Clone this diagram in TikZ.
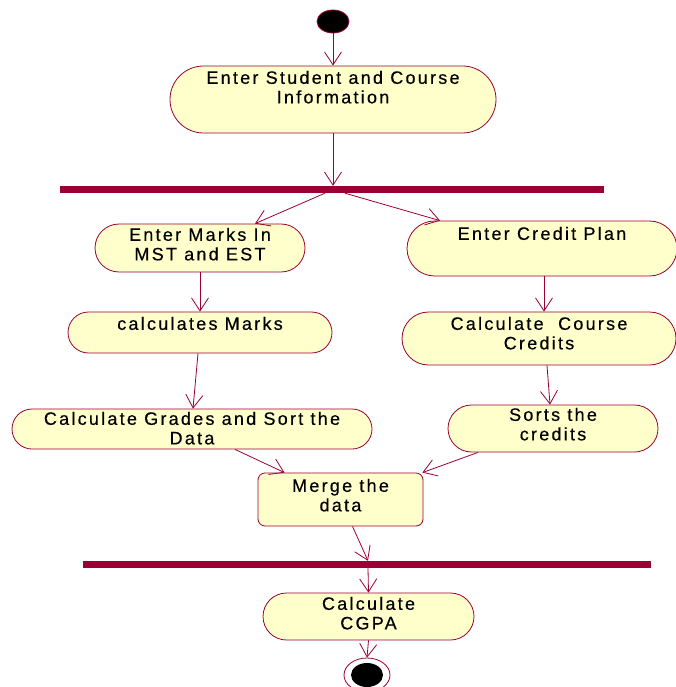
\documentclass[tikz,border=0pt]{standalone}
\usepackage{fontspec}
\newfontfamily\actfont{Liberation Sans}[LetterSpace=12.5,FakeBold=0.4]
\usetikzlibrary{shapes.misc,shapes.geometric,arrows.meta}
\definecolor{umlred}{HTML}{990033}
\definecolor{umlfill}{HTML}{FFFFCC}
\tikzset{
  act/.style={rounded rectangle, draw=umlred, fill=umlfill, line width=0.8pt, inner sep=0pt},
  mergebox/.style={rectangle, rounded corners=7pt, draw=umlred, fill=umlfill, line width=0.8pt, inner sep=0pt},
  lbl/.style={font=\actfont\fontsize{18}{19.5}\selectfont, align=center, inner sep=0pt, anchor=north, yshift=-5pt},
  syncbar/.style={rectangle, fill=umlred, inner sep=0pt, minimum height=7pt},
  flow/.style={draw=umlred, line width=0.8pt, -{Straight Barb[length=13pt,width=17pt,line width=0.8pt]}},
}
\begin{document}
\begin{tikzpicture}[x=1pt,y=-1pt]
\useasboundingbox (0,0) rectangle (676,687);

% initial state
\node[ellipse, draw=umlred, fill=black, line width=0.8pt, minimum width=32, minimum height=23, inner sep=0pt] (start) at (333,21.5) {};

% activities
\node[act, minimum width=326, minimum height=67,
  label={[lbl]north:{Enter Student and Course\\Information}}] (info) at (333,99.5) {};

\node[syncbar, minimum width=544] (fork) at (332,189.5) {};

\node[act, minimum width=210, minimum height=48,
  label={[lbl,yshift=1pt]north:{Enter Marks In\\MST and EST}}] (marks) at (200,248) {};
\node[act, minimum width=264, minimum height=41,
  label={[lbl]north:{calculates Marks}}] (calcm) at (200,332.5) {};
\node[act, minimum width=360, minimum height=40,
  label={[lbl,yshift=2pt]north:{Calculate Grades and Sort the\\Data}}] (grades) at (192,429) {};

\node[act, minimum width=270, minimum height=55,
  label={[lbl,yshift=-1pt]north:{Enter Credit Plan}}] (plan) at (542,248.5) {};
\node[act, minimum width=274, minimum height=53,
  label={[lbl]north:{Calculate \ Course\\Credits}}] (credits) at (539,338.5) {};
\node[act, minimum width=210, minimum height=47,
  label={[lbl,yshift=2pt]north:{Sorts the\\credits}}] (sorts) at (553,428.5) {};

\node[mergebox, minimum width=165, minimum height=53,
  label={[lbl,yshift=-1pt]north:{Merge the\\data}}] (merge) at (340.5,499.5) {};

\node[syncbar, minimum width=568] (join) at (367,564.5) {};

\node[act, minimum width=211, minimum height=47,
  label={[lbl,yshift=1pt]north:{Calculate\\CGPA}}] (cgpa) at (368.5,616.5) {};

% final state
\node[ellipse, draw=umlred, fill=white, line width=0.8pt, minimum width=46, minimum height=34, inner sep=0pt] (final) at (367,675) {};
\node[ellipse, fill=black, minimum width=32, minimum height=24, inner sep=0pt] (finaldot) at (367,675) {};

% transitions
\draw[flow] (start.south) -- (info.north);
\draw[flow] (info.south) -- (info.south |- fork.north);
\draw[flow] ([xshift=-7pt]fork.south) -- ([xshift=55pt]marks.north);
\draw[flow] ([xshift=13pt]fork.south) -- ([xshift=-102pt]plan.north);
\draw[flow] (marks.south) -- (calcm.north);
\draw[flow] ([xshift=-2pt]calcm.south) -- ([xshift=1pt]grades.north);
\draw[flow] ([xshift=2pt]plan.south) -- ([xshift=5pt]credits.north);
\draw[flow] ([xshift=8pt]credits.south) -- ([xshift=-3pt]sorts.north);
\draw[flow] ([xshift=43pt]grades.south) -- ([xshift=-56pt]merge.north);
\draw[flow] ([xshift=-75pt]sorts.south) -- ([xshift=-1pt]merge.north east);
\draw[flow] ([xshift=12pt]merge.south) -- ([xshift=1pt]join.north);
\draw[flow] ([xshift=1pt]join.south) -- (cgpa.north);
\draw[flow] (cgpa.south) -- (final.north);
\end{tikzpicture}
\end{document}
